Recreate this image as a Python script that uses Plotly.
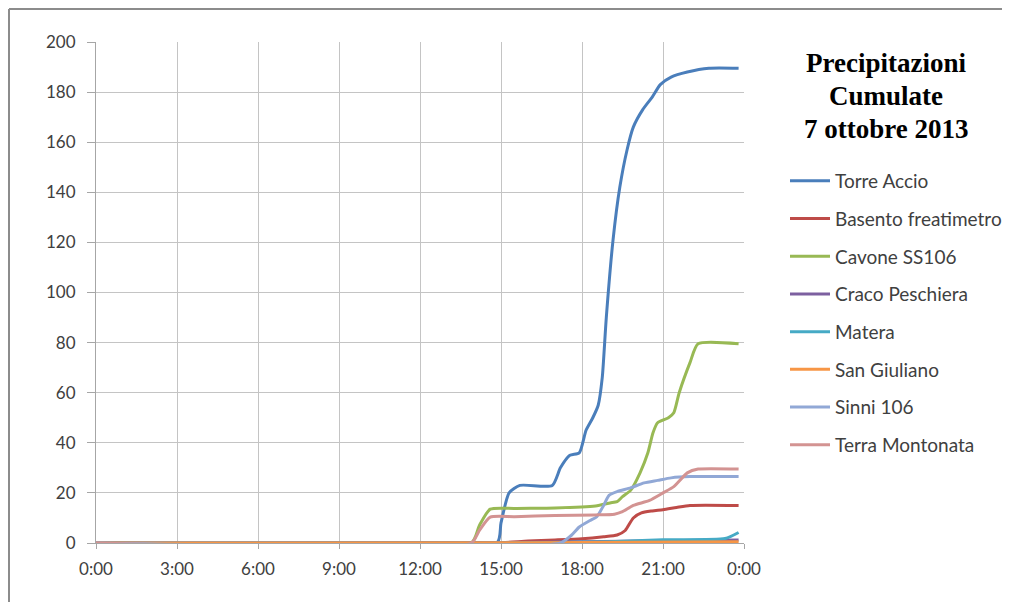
import plotly.graph_objects as go

# ---------------- data (hours of the day, cumulated mm) ----------------
tick_vals = [0, 3, 6, 9, 12, 15, 18, 21, 24]
tick_text = ["0:00", "3:00", "6:00", "9:00", "12:00", "15:00", "18:00", "21:00", "0:00"]
y_ticks = [0, 20, 40, 60, 80, 100, 120, 140, 160, 180, 200]

torre_t = [0, 14.85, 15.0, 15.3, 15.7, 16.9, 17.2, 17.55, 17.9, 18.15, 18.4, 18.6, 18.75, 18.9,
           19.15, 19.4, 19.67, 19.9, 20.25, 20.6, 20.9, 21.3, 21.9, 22.7, 23.8]
torre_v = [0, 0, 8, 20, 23, 23, 30, 35, 36, 45, 50, 55, 66, 90,
           121, 142, 157, 166, 173, 178, 183, 186, 188, 189.5, 189.5]

basento_t = [0, 14.8, 16, 17, 18, 18.8, 19.3, 19.6, 19.9, 20.2, 20.6, 21.0, 21.5, 22.0, 23.8]
basento_v = [0, 0, 0.8, 1.2, 1.7, 2.5, 3.2, 5, 10, 12, 12.8, 13.3, 14.2, 15, 15]

cavone_t = [0, 13.9, 14.2, 14.6, 15.5, 17, 18.5, 19.04, 19.3, 19.5, 19.8, 20.15, 20.44,
            20.63, 20.8, 21.2, 21.4, 21.6, 22.0, 22.3, 23.8]
cavone_v = [0, 0, 7, 13.5, 13.8, 14, 14.8, 16, 16.5, 18.5, 21, 28, 36,
            44, 48, 50, 52, 60, 72, 79.5, 79.5]

craco_t = [0, 15, 18, 21, 23.8]
craco_v = [0, 0.2, 0.5, 0.9, 1.2]

matera_t = [0, 15, 19, 21, 23.3, 23.8]
matera_v = [0, 0, 0.5, 1.3, 1.8, 4.2]

sangiuliano_t = [0, 16, 20, 23.8]
sangiuliano_v = [0, 0.1, 0.3, 0.5]

sinni_t = [0, 17.2, 17.6, 17.9, 18.3, 18.55, 18.8, 19.0, 19.3, 19.8, 20.3, 20.8, 21.3, 22.0, 23.8]
sinni_v = [0, 0, 3, 6.4, 9, 10.5, 15, 19, 20.5, 22, 24, 25, 26, 26.5, 26.5]

terra_t = [0, 13.9, 14.2, 14.6, 15.5, 17, 18.5, 19.2, 19.5, 19.9, 20.5, 21.0, 21.4, 21.9, 22.3, 23.8]
terra_v = [0, 0, 5, 10.3, 10.5, 11, 11.2, 11.5, 12.5, 15, 17, 20, 22.5, 28, 29.5, 29.5]

series_names = ["Torre Accio", "Basento freatimetro", "Cavone SS106", "Craco Peschiera",
                "Matera", "San Giuliano", "Sinni 106", "Terra Montonata"]
series_colors = ["#4A7EBB", "#BE4B48", "#98B954", "#7D60A0",
                 "#46AAC5", "#F79646", "#91A8D6", "#D39392"]
series_data = [(torre_t, torre_v), (basento_t, basento_v), (cavone_t, cavone_v),
               (craco_t, craco_v), (matera_t, matera_v), (sangiuliano_t, sangiuliano_v),
               (sinni_t, sinni_v), (terra_t, terra_v)]

title_lines = ["Precipitazioni", "Cumulate", "7 ottobre 2013"]

# ---------------- figure ----------------
fig = go.Figure()
for name, color, (t, v) in zip(series_names, series_colors, series_data):
    fig.add_trace(go.Scatter(
        x=t, y=v, name=name, mode="lines", legendgroup=name,
        line=dict(color=color, width=3, shape="spline", smoothing=0.6),
    ))

# the page body has an 8px margin; work in page coordinates
OFF = 8
W, H = 994, 594
PX0, PX1 = 96, 744      # plot area, page x
PY0, PY1 = 42, 543      # plot area, page y
L, R = PX0 - OFF, W - (PX1 - OFF)
T, B = PY0 - OFF, H - (PY1 - OFF)
pw, ph = PX1 - PX0, PY1 - PY0


def px_x(x):
    return (x - PX0) / pw


def px_y(y):
    return (PY1 - y) / ph


grid = "#C4C4C4"
tickfont = dict(family="Lato, Open Sans, sans-serif", size=17, color="#404040")

fig.update_layout(
    width=W, height=H,
    margin=dict(l=L, r=R, t=T, b=B, autoexpand=False),
    paper_bgcolor="white", plot_bgcolor="white",
    showlegend=True,
    legend=dict(
        x=px_x(785), y=px_y(162), xanchor="left", yanchor="top",
        font=dict(family="Lato, Open Sans, sans-serif", size=19, color="#404040"),
        tracegroupgap=10, itemwidth=40, bgcolor="rgba(0,0,0,0)",
    ),
    xaxis=dict(
        range=[0, 24], tickvals=tick_vals, ticktext=tick_text,
        showgrid=True, gridcolor=grid, gridwidth=1,
        showline=True, linecolor="#A6A6A6", linewidth=1,
        ticks="outside", ticklen=5, tickcolor="#A6A6A6",
        tickfont=tickfont, zeroline=False, fixedrange=True,
        ticklabelstandoff=6,
    ),
    yaxis=dict(
        range=[0, 200], tickvals=y_ticks,
        showgrid=True, gridcolor=grid, gridwidth=1,
        showline=True, linecolor="#A6A6A6", linewidth=1,
        ticks="outside", ticklen=8, tickcolor="#A6A6A6",
        tickfont=tickfont, zeroline=False, fixedrange=True,
        ticklabelstandoff=8,
    ),
)

title_y = [63, 96, 129]
for txt, yy in zip(title_lines, title_y):
    fig.add_annotation(
        text="<b>%s</b>" % txt, xref="paper", yref="paper",
        x=px_x(886), y=px_y(yy), xanchor="center", yanchor="middle",
        showarrow=False,
        font=dict(family="Liberation Serif, Times New Roman, serif", size=27, color="black"),
    )

# outer frame: top and left edges
frame = dict(color="#8C8C8C", width=2)
fig.add_shape(type="line", xref="paper", yref="paper",
              x0=px_x(9), y0=px_y(9), x1=px_x(1002), y1=px_y(9), line=frame, layer="below")
fig.add_shape(type="line", xref="paper", yref="paper",
              x0=px_x(9), y0=px_y(9), x1=px_x(9), y1=px_y(602), line=frame, layer="below")

fig.write_html("out.html", config={"displayModeBar": False})
